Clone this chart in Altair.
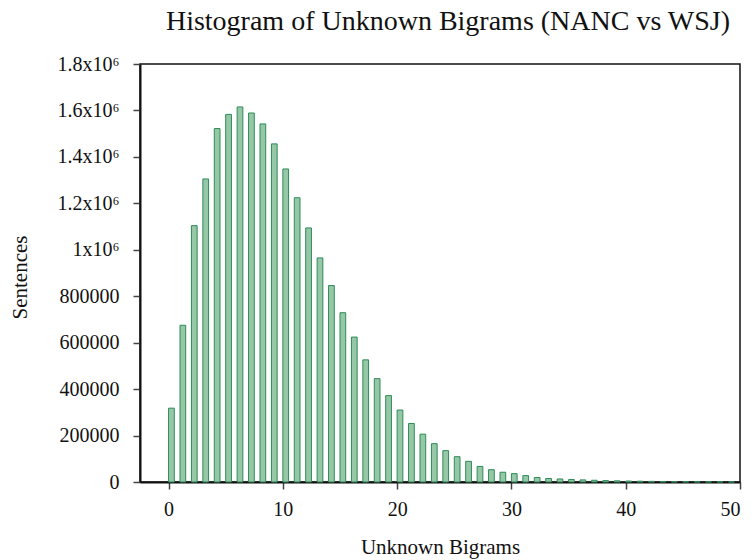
import altair as alt
import pandas as pd

unknown_bigrams = list(range(0, 50))
sentences = [
    318000, 675000, 1104000, 1305000, 1522000, 1583000, 1615000, 1589000, 1542000, 1456000,
    1348000, 1224000, 1094000, 965000, 846000, 729000, 624000, 526000, 445000, 372000,
    310000, 252000, 206000, 165000, 135000, 109000, 89000, 67000, 53000, 42000,
    36000, 27500, 19500, 15000, 13000, 10500, 9000, 7500, 6000, 5000,
    4200, 3500, 2800, 2200, 1600, 1200, 900, 600, 400, 250,
]

df = pd.DataFrame({"bigrams": unknown_bigrams, "sentences": sentences})
df["bigrams_end"] = df["bigrams"] + 0.5

FONT = "Liberation Serif"

bars = alt.Chart(df).mark_rect(
    fill="#90c5a2", fillOpacity=0.95, stroke="#2e8b57", strokeWidth=1
).encode(
    x=alt.X(
        "bigrams:Q",
        scale=alt.Scale(domain=[-2.5, 50], nice=False, zero=False),
        axis=alt.Axis(
            title="Unknown Bigrams",
            values=[0, 10, 20, 30, 40, 50],
            grid=False,
            tickSize=7,
            tickColor="#444444",
            tickWidth=1.5,
            domainColor="#111111",
            domainWidth=2,
            labelFont=FONT,
            labelFontSize=20,
            labelColor="#111111",
            labelPadding=10,
            titleFont=FONT,
            titleFontSize=21,
            titleFontWeight="normal",
            titleColor="#111111",
            titleX=300,
            titleY=65,
            titleBaseline="middle",
        ),
    ),
    x2="bigrams_end:Q",
    y=alt.Y(
        "sentences:Q",
        scale=alt.Scale(domain=[0, 1800000], nice=False),
        axis=alt.Axis(
            title="Sentences",
            values=[0, 200000, 400000, 600000, 800000, 1000000, 1200000, 1400000, 1600000, 1800000],
            labelExpr="datum.value >= 1000000 ? format(datum.value / 1000000, '~g') + 'x10⁶' : format(datum.value, 'd')",
            grid=False,
            tickSize=7,
            tickColor="#444444",
            tickWidth=1.5,
            domainColor="#111111",
            domainWidth=2,
            labelFont=FONT,
            labelFontSize=20,
            labelColor="#111111",
            labelPadding=14,
            titleFont=FONT,
            titleFontSize=21,
            titleFontWeight="normal",
            titleColor="#111111",
            titleX=-120,
            titleY=213,
            titleBaseline="middle",
            titleAlign="center",
        ),
    ),
    y2=alt.Y2(datum=0),
)

chart = bars.properties(
    width=600,
    height=418,
    title=alt.TitleParams(
        "Histogram of Unknown Bigrams (NANC vs WSJ)",
        font=FONT,
        fontSize=28,
        fontWeight="normal",
        color="#111111",
        anchor="middle",
        baseline="alphabetic",
        offset=0,
        dx=8,
        dy=4,
    ),
    autosize=alt.AutoSizeParams(type="none"),
    padding={"left": 140, "top": 64, "right": 16, "bottom": 78},
    background="white",
).configure_view(
    stroke="#111111", strokeWidth=1.5
)

chart.save("out.html", embed_options={"renderer": "svg", "actions": False})
